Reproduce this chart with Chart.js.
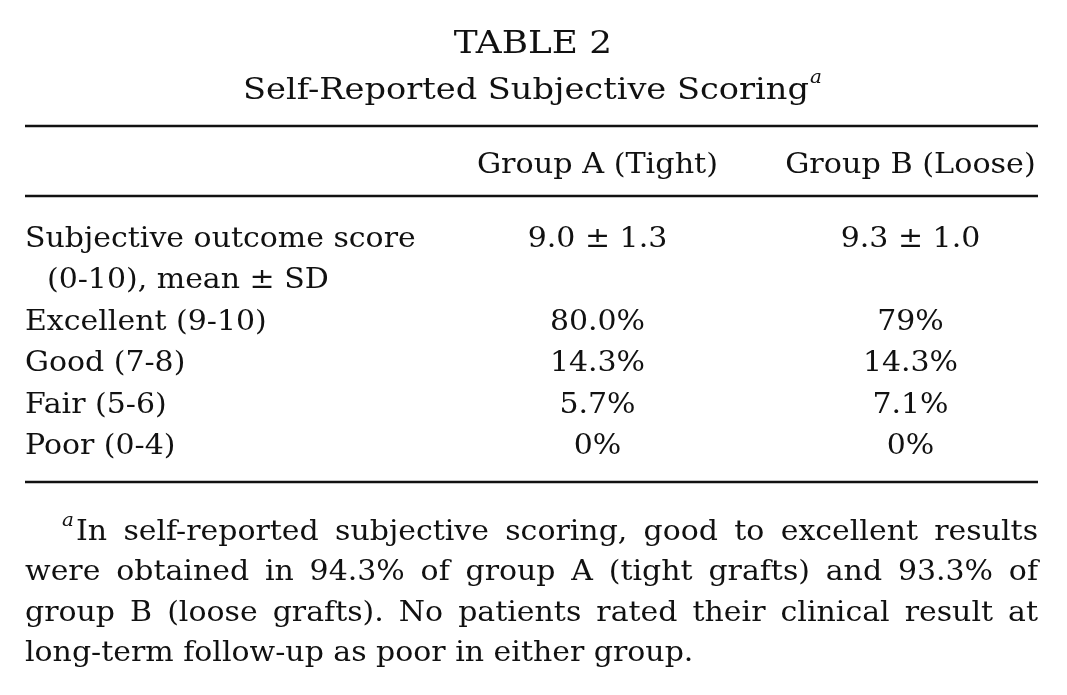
<!DOCTYPE html>
<html>
<head>
<meta charset="utf-8">
<script src="https://cdn.jsdelivr.net/npm/chart.js@4.4.0/dist/chart.umd.min.js"></script>
<style>
  html, body { margin: 0; background: #fff; }
  #wrap { width: 1067px; height: 695px; position: relative; }
</style>
</head>
<body>
<div id="wrap"><canvas id="table"></canvas></div>
<script>
// Table content, as printed.
const tableTitle = 'TABLE 2';
const tableSubtitle = 'Self-Reported Subjective Scoring';
const groups = ['Group A (Tight)', 'Group B (Loose)'];
const rowLabels = ['Subjective outcome score', '(0-10), mean ± SD', 'Excellent (9-10)', 'Good (7-8)', 'Fair (5-6)', 'Poor (0-4)'];
const groupAValues = ['9.0 ± 1.3', '', '80.0%', '14.3%', '5.7%', '0%'];
const groupBValues = ['9.3 ± 1.0', '', '79%', '14.3%', '7.1%', '0%'];
const footnoteLines = [
  'In self-reported subjective scoring, good to excellent results',
  'were obtained in 94.3% of group A (tight grafts) and 93.3% of',
  'group B (loose grafts). No patients rated their clinical result at',
  'long-term follow-up as poor in either group.'
];

const FONT = '"DejaVu Serif", serif';
const INK = '#111';
// the printed face is wider than DejaVu Serif, so stretch it a little
const STRETCH = 1.07;

// One dataset per group column; each cell sits on the category scales.
function cells(values, group) {
  return rowLabels.map((r, i) => ({ x: group, y: r, text: values[i] }));
}

function txt(ctx, s, x, y, align, sx) {
  ctx.save();
  ctx.translate(x, y);
  ctx.scale(sx, 1);
  ctx.textAlign = align;
  ctx.fillText(s, 0, 0);
  ctx.restore();
}

function rule(ctx, y, x0, x1) {
  ctx.save();
  ctx.strokeStyle = INK;
  ctx.lineWidth = 2.5;
  ctx.beginPath();
  ctx.moveTo(x0, y);
  ctx.lineTo(x1, y);
  ctx.stroke();
  ctx.restore();
}

function justified(ctx, text, x0, x1, y, sx) {
  const words = text.split(' ');
  const w = (s) => ctx.measureText(s).width * sx;
  const wordsW = words.reduce((s, word) => s + w(word), 0);
  const gap = (x1 - x0 - wordsW) / (words.length - 1);
  let x = x0;
  words.forEach((word) => {
    txt(ctx, word, x, y, 'left', sx);
    x += w(word) + gap;
  });
}

const tablePlugin = {
  id: 'tableText',
  afterDatasetsDraw(chart) {
    const ctx = chart.ctx;
    const xs = chart.scales.x;
    const ys = chart.scales.y;
    const left = 25, right = 1038;
    ctx.save();
    ctx.fillStyle = INK;
    ctx.textBaseline = 'alphabetic';

    // title
    ctx.font = '32px ' + FONT;
    txt(ctx, tableTitle, 533, 53, 'center', 1.12);
    ctx.font = '30px ' + FONT;
    const subW = ctx.measureText(tableSubtitle).width * 1.12;
    txt(ctx, tableSubtitle, 526, 99, 'center', 1.12);
    ctx.font = 'italic 19px ' + FONT;
    txt(ctx, 'a', 526 + subW / 2 + 1, 83, 'left', 1.05);

    rule(ctx, 126, left, right);
    rule(ctx, 196, left, right);
    rule(ctx, 482, left, right);

    // column headers
    ctx.font = '28px ' + FONT;
    groups.forEach((g, k) => {
      txt(ctx, g, xs.getPixelForValue(k), 173, 'center', 1.08);
    });

    // row labels
    rowLabels.forEach((r, i) => {
      const indent = i === 1 ? 22 : 0;
      txt(ctx, r, left + indent, ys.getPixelForValue(i), 'left', STRETCH);
    });

    // cell values
    chart.data.datasets.forEach((ds, di) => {
      const meta = chart.getDatasetMeta(di);
      meta.data.forEach((pt, i) => {
        if (ds.data[i].text) txt(ctx, ds.data[i].text, pt.x, pt.y, 'center', STRETCH);
      });
    });

    // footnote
    ctx.font = 'italic 19px ' + FONT;
    txt(ctx, 'a', 62, 526, 'left', 1.05);
    ctx.font = '28px ' + FONT;
    const baselines = [540, 580, 621, 661];
    footnoteLines.forEach((line, i) => {
      if (i === 0) justified(ctx, line, 76, right, baselines[i], STRETCH);
      else if (i < footnoteLines.length - 1) justified(ctx, line, left, right, baselines[i], STRETCH);
      else txt(ctx, line, left, baselines[i], 'left', STRETCH);
    });
    ctx.restore();
  }
};

new Chart(document.getElementById('table'), {
  type: 'scatter',
  data: {
    datasets: [
      { label: groups[0], data: cells(groupAValues, groups[0]), pointRadius: 0, borderWidth: 0 },
      { label: groups[1], data: cells(groupBValues, groups[1]), pointRadius: 0, borderWidth: 0 }
    ]
  },
  options: {
    responsive: true,
    maintainAspectRatio: false,
    animation: false,
    events: [],
    layout: { padding: { left: 441, right: 0, top: 247, bottom: 241 } },
    scales: {
      x: { type: 'category', labels: groups, offset: true, display: false },
      y: { type: 'category', labels: rowLabels, offset: false, display: false }
    },
    plugins: { legend: { display: false }, tooltip: { enabled: false } }
  },
  plugins: [tablePlugin]
});
</script>
</body>
</html>
